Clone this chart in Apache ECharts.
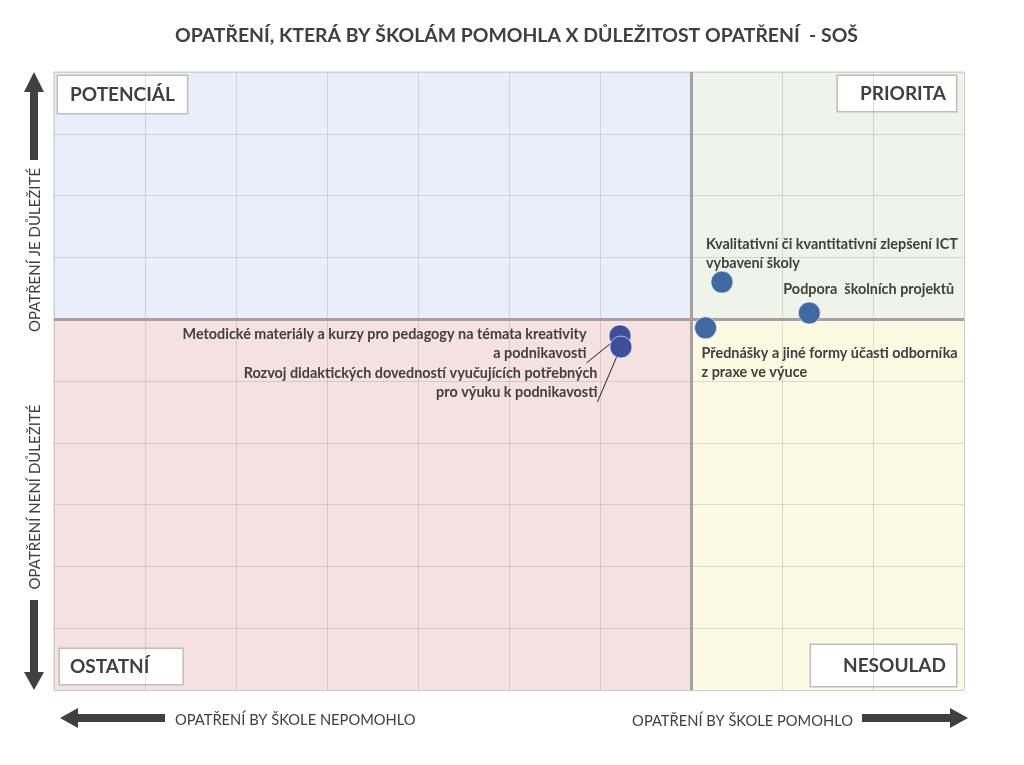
<!DOCTYPE html>
<html>
<head>
<meta charset="utf-8">
<script src="https://cdn.jsdelivr.net/npm/echarts@6/dist/echarts.min.js"></script>
<style>
html,body{margin:0;padding:0;background:#fff;}
#chart{width:1024px;height:765px;}
</style>
</head>
<body>
<div id="chart"></div>
<script>
// ---- data ----
const categories = [
  'Kvalitativní či kvantitativní zlepšení ICT\nvybavení školy',
  'Podpora  školních projektů',
  'Přednášky a jiné formy účasti odborníka\nz praxe ve výuce',
  'Metodické materiály a kurzy pro pedagogy na témata kreativity\na podnikavosti',
  'Rozvoj didaktických dovedností vyučujících potřebných\npro výuku k podnikavosti'
];
const pomohlo = [7.34, 8.30, 7.16, 6.22, 6.23];      // x: opatření by škole pomohlo
const dulezitost = [6.60, 6.10, 5.86, 5.73, 5.55];   // y: důležitost opatření
const xSplit = 7;
const ySplit = 6;
const xRange = [0, 10];
const yRange = [0, 10];
const quadrantNames = ['POTENCIÁL', 'PRIORITA', 'OSTATNÍ', 'NESOULAD'];
const titleText = 'OPATŘENÍ, KTERÁ BY ŠKOLÁM POMOHLA X DŮLEŽITOST OPATŘENÍ  - SOŠ';
const axisTexts = {
  yUp: 'OPATŘENÍ JE DŮLEŽITÉ',
  yDown: 'OPATŘENÍ NENÍ DŮLEŽITÉ',
  xLeft: 'OPATŘENÍ BY ŠKOLE NEPOMOHLO',
  xRight: 'OPATŘENÍ BY ŠKOLE POMOHLO'
};

// ---- styles ----
const FONT = 'Lato';
const TXT = '#404040';
const pointColors = ['#3e69a2', '#3e69a2', '#3e69a2', '#3c4f9b', '#3c4f9b'];
const labelStyles = [
  {position: 'top', align: 'left', distance: 0, offset: [-16, 2]},
  {position: 'top', align: 'left', distance: 3, offset: [-26, 0]},
  {position: 'bottom', align: 'left', distance: 5, offset: [-4, 0]},
  {position: 'left', align: 'right', distance: 22, offset: [0, 8], line: true},
  {position: 'left', align: 'right', distance: 12, offset: [0, 36], line: true}
];

const data = categories.map((name, i) => {
  const s = labelStyles[i];
  return {
    name: name,
    value: [pomohlo[i], dulezitost[i]],
    itemStyle: {color: pointColors[i], opacity: 1, borderColor: 'rgba(255,255,255,0.6)', borderWidth: 1},
    label: {
      show: true, formatter: name, position: s.position, align: s.align,
      distance: s.distance, offset: s.offset
    },
    labelLine: s.line ? {show: true, lineStyle: {color: '#222', width: 1}} : {show: false}
  };
});

const boxLabel = (pos, pad, off) => ({
  show: true, position: pos, distance: 4, offset: off,
  color: TXT, fontFamily: FONT, fontWeight: 'bold', fontSize: 19,
  backgroundColor: '#fff', borderColor: '#bdbdbd', borderWidth: 1.5,
  padding: pad
});

const axisCommon = {
  type: 'value', interval: 1, z: 2,
  axisLabel: {show: false}, axisTick: {show: false}, axisLine: {show: false},
  splitLine: {show: true, lineStyle: {color: 'rgba(140,140,140,0.28)', width: 1}}
};

const chart = echarts.init(document.getElementById('chart'));
chart.setOption({
  animation: false,
  backgroundColor: '#fff',
  grid: {left: 54, right: 60, top: 72, bottom: 75, show: true, borderColor: '#c8c8c8', borderWidth: 1},
  xAxis: Object.assign({min: xRange[0], max: xRange[1]}, axisCommon),
  yAxis: Object.assign({min: yRange[0], max: yRange[1]}, axisCommon),
  graphic: [
    {type: 'text', left: 175, top: 26, style: {text: titleText, fill: TXT, font: 'bold 19.4px ' + FONT}},
    // left vertical arrows
    {type: 'polygon', shape: {points: [[30,160],[30,92],[24,92],[34,72],[44,92],[38,92],[38,160]]}, style: {fill: TXT}},
    {type: 'polygon', shape: {points: [[30,600],[30,672],[24,672],[34,690],[44,672],[38,672],[38,600]]}, style: {fill: TXT}},
    {type: 'text', x: 35, y: 250, rotation: Math.PI / 2,
      style: {text: axisTexts.yUp, fill: TXT, font: '15px ' + FONT, align: 'center', verticalAlign: 'middle'}},
    {type: 'text', x: 35, y: 497, rotation: Math.PI / 2,
      style: {text: axisTexts.yDown, fill: TXT, font: '15px ' + FONT, align: 'center', verticalAlign: 'middle'}},
    // bottom arrows
    {type: 'polygon', shape: {points: [[165,714],[78,714],[78,708],[60,718],[78,728],[78,722],[165,722]]}, style: {fill: TXT}},
    {type: 'polygon', shape: {points: [[862,714],[950,714],[950,708],[968,718],[950,728],[950,722],[862,722]]}, style: {fill: TXT}},
    {type: 'text', x: 175, y: 720,
      style: {text: axisTexts.xLeft, fill: TXT, font: '14.7px ' + FONT, align: 'left', verticalAlign: 'middle'}},
    {type: 'text', x: 853, y: 721,
      style: {text: axisTexts.xRight, fill: TXT, font: '14.7px ' + FONT, align: 'right', verticalAlign: 'middle'}}
  ],
  series: [{
    type: 'scatter', z: 1, data: [], silent: true,
    markArea: {
      silent: true,
      data: [
        [{xAxis: xRange[0], yAxis: ySplit, itemStyle: {color: '#e8eff8'}, label: boxLabel('insideTopLeft', [9, 12, 9, 12], [0, 0]), name: quadrantNames[0]},
         {xAxis: xSplit, yAxis: yRange[1]}],
        [{xAxis: xSplit, yAxis: ySplit, itemStyle: {color: '#eef4e9'}, label: boxLabel('insideTopRight', [8, 10, 8, 22], [-4, 0]), name: quadrantNames[1]},
         {xAxis: xRange[1], yAxis: yRange[1]}],
        [{xAxis: xRange[0], yAxis: yRange[0], itemStyle: {color: '#f5e0e2'}, label: boxLabel('insideBottomLeft', [8, 33, 8, 10], [2, -2]), name: quadrantNames[2]},
         {xAxis: xSplit, yAxis: ySplit}],
        [{xAxis: xSplit, yAxis: yRange[0], itemStyle: {color: '#fafbe1'}, label: boxLabel('insideBottomRight', [11, 10, 11, 32], [-4, 0]), name: quadrantNames[3]},
         {xAxis: xRange[1], yAxis: ySplit}]
      ]
    }
  }, {
    type: 'scatter', z: 4,
    symbolSize: 22,
    data: data,
    label: {color: TXT, fontFamily: FONT, fontWeight: 'bold', fontSize: 14.4, lineHeight: 19},
    markLine: {
      silent: true, symbol: 'none', label: {show: false}, z: 3,
      lineStyle: {color: '#a8a0a0', width: 3, type: 'solid'},
      data: [{xAxis: xSplit}, {yAxis: ySplit}]
    }
  }]
});
</script>
</body>
</html>
